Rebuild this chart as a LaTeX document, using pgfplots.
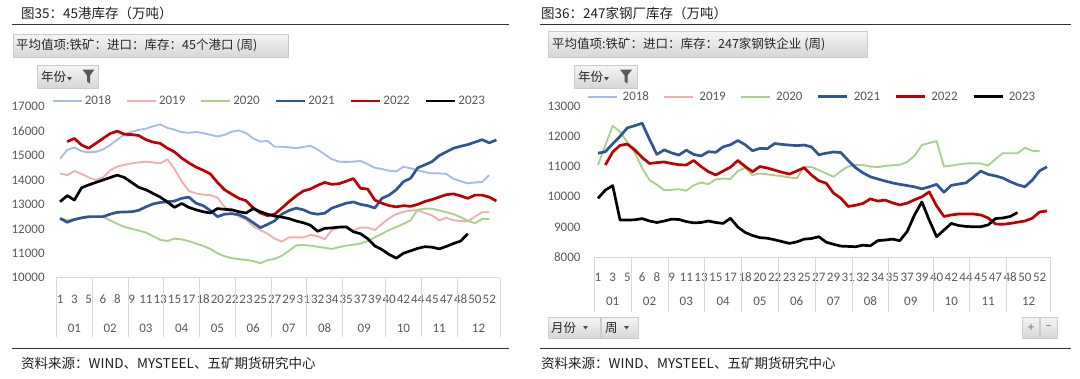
\documentclass[border=0pt]{standalone}
\usepackage{fontspec}
\setmainfont{Carlito}
\newfontfamily\cjk{Noto Sans CJK SC}
\usepackage{pgfplots}
\pgfplotsset{compat=1.18}

\definecolor{cA}{RGB}{166,189,227}
\definecolor{cB}{RGB}{240,175,175}
\definecolor{cC}{RGB}{169,209,142}
\definecolor{cD}{RGB}{47,85,151}
\definecolor{cE}{RGB}{192,0,0}
\definecolor{cF}{RGB}{0,0,0}
\definecolor{tick}{RGB}{89,89,89}
\definecolor{sep}{RGB}{217,217,217}

\pgfplotsset{
 chartbase/.style={
  anchor=south west, scale only axis,
  xmin=0.5, xmax=62.5,
  axis line style={draw=none},
  major tick length=0pt,
  clip=false,
  xtick={1,3,...,61},
  xticklabels={1,3,5,6,8,9,11,13,15,17,18,20,22,23,25,27,29,31,32,34,35,37,39,40,42,44,45,47,48,50,52},
  ticklabel style={font=\fontsize{13}{13}\selectfont, text=tick},
  /pgf/number format/assume math mode=true,
  /pgf/number format/1000 sep={},
  scaled y ticks=false,
  yticklabel style={anchor=east, inner sep=0pt},
  xticklabel style={anchor=center, inner sep=0pt},
  legend columns=6,
  legend cell align=left,
  legend image code/.code={\draw[##1] (0pt,0pt) -- (29pt,0pt);},
  legend style={draw=none, fill=none, font=\fontsize{13}{13}\selectfont, text=tick, inner sep=0pt, nodes={inner sep=0pt}},
 },
 lt/.style={line width=1.9pt, line join=round},
 lk/.style={line width=2.7pt, line join=round},
}

\begin{document}
\begin{tikzpicture}
\useasboundingbox (0pt,0pt) rectangle (1080pt,-378pt);
\begin{scope}[x=1pt,y=-1pt]
% ---------- left decorations
\node[anchor=west, inner sep=0pt, font=\cjk\fontsize{13.5}{13.5}\selectfont, text=black!88] at (21,13) {图35：45港库存（万吨）};
\draw[black!80, line width=0.8pt] (12,24) -- (509,24);
\shade[top color=gray!8, bottom color=gray!32, draw=gray!40] (13,34) rectangle (288,57.5);
\node[anchor=west, inner sep=0pt, font=\cjk\fontsize{12.5}{12.5}\selectfont, text=black!85] at (16,45.5) {平均值项:铁矿：进口：库存：45个港口 (周)};
\shade[top color=gray!8, bottom color=gray!32, draw=gray!40] (37,65) rectangle (98,88.5);
\node[anchor=west, inner sep=0pt, font=\cjk\fontsize{12.5}{12.5}\selectfont, text=black!85] at (41,76.5) {年份};
\fill[black!70] (67,77) -- (72,77) -- (69.5,80.5) -- cycle;
\fill[black!65] (82.5,69.5) -- (94.5,69.5) -- (90,75.5) -- (90,83.5) -- (87,81.5) -- (87,75.5) -- cycle;
\draw[black!80, line width=0.8pt] (12,348) -- (509,348);
\node[anchor=west, inner sep=0pt, font=\cjk\fontsize{13.5}{13.5}\selectfont, text=black!88] at (21,363) {资料来源：WIND、MYSTEEL、五矿期货研究中心};
% ---------- right decorations
\node[anchor=west, inner sep=0pt, font=\cjk\fontsize{13.5}{13.5}\selectfont, text=black!88] at (541,13) {图36：247家钢厂库存（万吨）};
\draw[black!80, line width=0.8pt] (540,24) -- (1071,24);
\shade[top color=gray!8, bottom color=gray!32, draw=gray!40] (548,31) rectangle (867,57);
\node[anchor=west, inner sep=0pt, font=\cjk\fontsize{12.5}{12.5}\selectfont, text=black!85] at (552,44) {平均值项:铁矿：进口：库存：247家钢铁企业 (周)};
\shade[top color=gray!8, bottom color=gray!32, draw=gray!40] (574.5,65) rectangle (637,88.5);
\node[anchor=west, inner sep=0pt, font=\cjk\fontsize{12.5}{12.5}\selectfont, text=black!85] at (578,76.5) {年份};
\fill[black!70] (604,77) -- (609,77) -- (606.5,80.5) -- cycle;
\fill[black!65] (620,69.5) -- (632,69.5) -- (627.5,75.5) -- (627.5,83.5) -- (624.5,81.5) -- (624.5,75.5) -- cycle;
\shade[top color=gray!8, bottom color=gray!32, draw=gray!40] (548.5,317.5) rectangle (600,338);
\node[anchor=west, inner sep=0pt, font=\cjk\fontsize{12.5}{12.5}\selectfont, text=black!85] at (551,328) {月份};
\fill[black!70] (583,326) -- (588,326) -- (585.5,329.5) -- cycle;
\shade[top color=gray!8, bottom color=gray!32, draw=gray!40] (601,317.5) rectangle (638,338);
\node[anchor=west, inner sep=0pt, font=\cjk\fontsize{12.5}{12.5}\selectfont, text=black!85] at (605,328) {周};
\fill[black!70] (624,326) -- (629,326) -- (626.5,329.5) -- cycle;
\shade[top color=gray!8, bottom color=gray!32, draw=gray!40] (1022.5,317.5) rectangle (1039.5,338);
\node[font=\fontsize{13}{13}\selectfont, text=black!55] at (1031,327.5) {+};
\shade[top color=gray!8, bottom color=gray!32, draw=gray!40] (1040.5,317.5) rectangle (1057,338);
\node[font=\fontsize{13}{13}\selectfont, text=black!55] at (1048.7,327.5) {\textendash};
\draw[black!80, line width=0.8pt] (540,348) -- (1071,348);
\node[anchor=west, inner sep=0pt, font=\cjk\fontsize{13.5}{13.5}\selectfont, text=black!88] at (541,363) {资料来源：WIND、MYSTEEL、五矿期货研究中心};
\end{scope}

% ================= LEFT AXIS
\begin{axis}[chartbase,
  at={(56.5pt,-277.7pt)}, width=443.5pt, height=171pt,
  ymin=10000, ymax=17000, ytick={10000,11000,...,17000},
  yticklabel style={xshift=-11.7pt},
  xticklabel style={yshift=-21.3pt},
  legend style={at={(-0.0108,1.0333)}, anchor=west},
  /tikz/every odd column/.append style={column sep=2pt},
  /tikz/every even column/.append style={column sep=15pt},
]
\addplot[cA, lt] coordinates {(1,14870) (2,15230) (3,15330) (4,15180) (5,15130) (6,15150) (7,15250) (8,15430) (9,15650) (10,15870) (11,15980) (12,16050) (13,16100) (14,16200) (15,16280) (16,16130) (17,16060) (18,15960) (19,15930) (20,15970) (21,15920) (22,15850) (23,15780) (24,15850) (25,15980) (26,16030) (27,15920) (28,15700) (29,15570) (30,15600) (31,15360) (32,15360) (33,15340) (34,15300) (35,15350) (36,15400) (37,15250) (38,15050) (39,14850) (40,14750) (41,14740) (42,14750) (43,14780) (44,14650) (45,14500) (46,14450) (47,14380) (48,14350) (49,14540) (50,14480) (51,14400) (52,14320) (53,14270) (54,14270) (55,14250) (56,14050) (57,13950) (58,13860) (59,13900) (60,13920) (61,14200)};
\addlegendentry{2018}
\addplot[cB, lt] coordinates {(1,14270) (2,14200) (3,14370) (4,14250) (5,14100) (6,14000) (7,14100) (8,14400) (9,14550) (10,14620) (11,14680) (12,14720) (13,14750) (14,14720) (15,14680) (16,14850) (17,14450) (18,13950) (19,13550) (20,13450) (21,13400) (22,13380) (23,13280) (24,12900) (25,12650) (26,12500) (27,12380) (28,12100) (29,11950) (30,11800) (31,11600) (32,11480) (33,11650) (34,11650) (35,11650) (36,11750) (37,11700) (38,11580) (39,11950) (40,12050) (41,12100) (42,11920) (43,12050) (44,12050) (45,11950) (46,12200) (47,12430) (48,12600) (49,12700) (50,12750) (51,12760) (52,12650) (53,12550) (54,12350) (55,12450) (56,12350) (57,12320) (58,12300) (59,12500) (60,12680) (61,12680)};
\addlegendentry{2019}
\addplot[cC, lt] coordinates {(1,12430) (2,12360) (3,12400) (4,12430) (5,12470) (6,12500) (7,12500) (8,12350) (9,12200) (10,12080) (11,12000) (12,11930) (13,11850) (14,11700) (15,11550) (16,11500) (17,11600) (18,11570) (19,11500) (20,11400) (21,11300) (22,11180) (23,11000) (24,10880) (25,10800) (26,10760) (27,10730) (28,10680) (29,10590) (30,10720) (31,10770) (32,10900) (33,11100) (34,11320) (35,11340) (36,11310) (37,11270) (38,11220) (39,11180) (40,11250) (41,11310) (42,11350) (43,11400) (44,11500) (45,11650) (46,11800) (47,11950) (48,12080) (49,12200) (50,12350) (51,12780) (52,12830) (53,12830) (54,12750) (55,12680) (56,12600) (57,12480) (58,12330) (59,12230) (60,12400) (61,12400)};
\addlegendentry{2020}
\addplot[cD, lk] coordinates {(1,12430) (2,12270) (3,12380) (4,12450) (5,12500) (6,12500) (7,12500) (8,12600) (9,12680) (10,12690) (11,12700) (12,12760) (13,12900) (14,13020) (15,13080) (16,13110) (17,13140) (18,13250) (19,13300) (20,13050) (21,12950) (22,12750) (23,12500) (24,12600) (25,12620) (26,12580) (27,12450) (28,12250) (29,12050) (30,12180) (31,12330) (32,12600) (33,12750) (34,12850) (35,12780) (36,12650) (37,12600) (38,12640) (39,12850) (40,12950) (41,13050) (42,13100) (43,13000) (44,12950) (45,12850) (46,13250) (47,13380) (48,13600) (49,13930) (50,14070) (51,14500) (52,14620) (53,14750) (54,15000) (55,15150) (56,15300) (57,15380) (58,15450) (59,15550) (60,15650) (61,15520) (62,15640)};
\addlegendentry{2021}
\addplot[cE, lk] coordinates {(2,15570) (3,15700) (4,15430) (5,15300) (6,15500) (7,15700) (8,15900) (9,16000) (10,15870) (11,15860) (12,15820) (13,15650) (14,15550) (15,15500) (16,15300) (17,15150) (18,14900) (19,14700) (20,14530) (21,14400) (22,14250) (23,13900) (24,13600) (25,13420) (26,13250) (27,13150) (28,12860) (29,12650) (30,12540) (31,12600) (32,12850) (33,13110) (34,13350) (35,13550) (36,13630) (37,13780) (38,13900) (39,13820) (40,13850) (41,13950) (42,14060) (43,13660) (44,13630) (45,13180) (46,13050) (47,12950) (48,12900) (49,12950) (50,12920) (51,13000) (52,13120) (53,13200) (54,13300) (55,13400) (56,13430) (57,13350) (58,13250) (59,13380) (60,13380) (61,13300) (62,13140)};
\addlegendentry{2022}
\addplot[cF, lk] coordinates {(1,13110) (2,13360) (3,13180) (4,13680) (5,13800) (6,13900) (7,14000) (8,14100) (9,14200) (10,14100) (11,13900) (12,13700) (13,13600) (14,13450) (15,13300) (16,13100) (17,12880) (18,13040) (19,12880) (20,12780) (21,12700) (22,12650) (23,12830) (24,12800) (25,12780) (26,12700) (27,12650) (28,12830) (29,12700) (30,12600) (31,12520) (32,12480) (33,12420) (34,12320) (35,12250) (36,12150) (37,11900) (38,12020) (39,12040) (40,12070) (41,12080) (42,11880) (43,11800) (44,11600) (45,11300) (46,11150) (47,10950) (48,10800) (49,11000) (50,11100) (51,11200) (52,11270) (53,11250) (54,11180) (55,11280) (56,11400) (57,11500) (58,11800)};
\addlegendentry{2023}
\draw[sep, line width=0.8pt] (axis cs:0.5,10000) -- (axis cs:62.5,10000);
\pgfplotsinvokeforeach{0.5,5.5,10.5,15.5,20.5,25.5,30.5,35.5,40.5,46.5,51.5,56.5,62.5}{
  \draw[sep, line width=0.8pt] (axis cs:#1,10000) -- ++(0pt,-59.3pt);
}
\pgfplotsinvokeforeach{3/01,8/02,13/03,18/04,23/05,28/06,33/07,38/08,43.5/09,49/10,54/11,59.5/12}{
}
\node[font=\fontsize{13}{13}\selectfont, text=tick] at (axis cs:3,10000) [yshift=-50.3pt] {01};
\node[font=\fontsize{13}{13}\selectfont, text=tick] at (axis cs:8,10000) [yshift=-50.3pt] {02};
\node[font=\fontsize{13}{13}\selectfont, text=tick] at (axis cs:13,10000) [yshift=-50.3pt] {03};
\node[font=\fontsize{13}{13}\selectfont, text=tick] at (axis cs:18,10000) [yshift=-50.3pt] {04};
\node[font=\fontsize{13}{13}\selectfont, text=tick] at (axis cs:23,10000) [yshift=-50.3pt] {05};
\node[font=\fontsize{13}{13}\selectfont, text=tick] at (axis cs:28,10000) [yshift=-50.3pt] {06};
\node[font=\fontsize{13}{13}\selectfont, text=tick] at (axis cs:33,10000) [yshift=-50.3pt] {07};
\node[font=\fontsize{13}{13}\selectfont, text=tick] at (axis cs:38,10000) [yshift=-50.3pt] {08};
\node[font=\fontsize{13}{13}\selectfont, text=tick] at (axis cs:43.5,10000) [yshift=-50.3pt] {09};
\node[font=\fontsize{13}{13}\selectfont, text=tick] at (axis cs:49,10000) [yshift=-50.3pt] {10};
\node[font=\fontsize{13}{13}\selectfont, text=tick] at (axis cs:54,10000) [yshift=-50.3pt] {11};
\node[font=\fontsize{13}{13}\selectfont, text=tick] at (axis cs:59.5,10000) [yshift=-50.3pt] {12};
\end{axis}

% ================= RIGHT AXIS
\begin{axis}[chartbase,
  at={(594.3pt,-257.3pt)}, width=456.4pt, height=151.3pt,
  ymin=8000, ymax=13000, ytick={8000,9000,...,13000},
  yticklabel style={xshift=-13.6pt},
  xticklabel style={yshift=-19.7pt},
  legend style={at={(-0.0169,1.0615)}, anchor=west},
  /tikz/every odd column/.append style={column sep=5pt},
  /tikz/every even column/.append style={column sep=14.5pt},
]
\addlegendimage{cA, lt}
\addlegendentry{2018}
\addlegendimage{cB, lt}
\addlegendentry{2019}
\addplot[cC, lt] coordinates {(1,11050) (2,11700) (3,12350) (4,12150) (5,11800) (6,11450) (7,10950) (8,10550) (9,10400) (10,10220) (11,10230) (12,10250) (13,10200) (14,10380) (15,10470) (16,10420) (17,10580) (18,10600) (19,10590) (20,10850) (21,10960) (22,10720) (23,10770) (24,10740) (25,10710) (26,10680) (27,10640) (28,10610) (29,10990) (30,10990) (31,10880) (32,10770) (33,10660) (34,10850) (35,11000) (36,11050) (37,11050) (38,11000) (39,10980) (40,11020) (41,11040) (42,11060) (43,11150) (44,11350) (45,11710) (46,11780) (47,11840) (48,11000) (49,11030) (50,11070) (51,11100) (52,11110) (53,11100) (54,11030) (55,11250) (56,11440) (57,11440) (58,11440) (59,11620) (60,11520) (61,11510)};
\addlegendentry{2020}
\addplot[cD, lk] coordinates {(1,11440) (2,11490) (3,11750) (4,12000) (5,12280) (6,12350) (7,12430) (8,11900) (9,11400) (10,11550) (11,11450) (12,11380) (13,11540) (14,11400) (15,11350) (16,11490) (17,11470) (18,11650) (19,11720) (20,11860) (21,11720) (22,11520) (23,11600) (24,11590) (25,11760) (26,11730) (27,11710) (28,11690) (29,11710) (30,11650) (31,11390) (32,11440) (33,11480) (34,11460) (35,11200) (36,10960) (37,10790) (38,10660) (39,10590) (40,10520) (41,10460) (42,10410) (43,10370) (44,10330) (45,10260) (46,10330) (47,10410) (48,10150) (49,10380) (50,10420) (51,10460) (52,10650) (53,10850) (54,10740) (55,10690) (56,10620) (57,10500) (58,10400) (59,10330) (60,10550) (61,10860) (62,10990)};
\addlegendentry{2021}
\addplot[cE, lk] coordinates {(2,11050) (3,11480) (4,11700) (5,11740) (6,11550) (7,11300) (8,11100) (9,11130) (10,11150) (11,11100) (12,11060) (13,11050) (14,11200) (15,11000) (16,10830) (17,10720) (18,10850) (19,10980) (20,11200) (21,11000) (22,10830) (23,11000) (24,10950) (25,10880) (26,10810) (27,10750) (28,10850) (29,10960) (30,10720) (31,10530) (32,10450) (33,10120) (34,9950) (35,9680) (36,9720) (37,9780) (38,9930) (39,9860) (40,9890) (41,9800) (42,9730) (43,9790) (44,9900) (45,10000) (46,10160) (47,9700) (48,9350) (49,9400) (50,9430) (51,9430) (52,9430) (53,9400) (54,9300) (55,9100) (56,9090) (57,9120) (58,9160) (59,9200) (60,9290) (61,9500) (62,9530)};
\addlegendentry{2022}
\addplot[cF, lk] coordinates {(1,9950) (2,10220) (3,10370) (4,9230) (5,9230) (6,9240) (7,9280) (8,9200) (9,9150) (10,9200) (11,9260) (12,9250) (13,9180) (14,9140) (15,9150) (16,9200) (17,9150) (18,9120) (19,9290) (20,9000) (21,8820) (22,8720) (23,8650) (24,8630) (25,8580) (26,8520) (27,8460) (28,8510) (29,8600) (30,8620) (31,8680) (32,8500) (33,8430) (34,8370) (35,8360) (36,8350) (37,8400) (38,8380) (39,8550) (40,8570) (41,8600) (42,8550) (43,8850) (44,9400) (45,9830) (46,9230) (47,8680) (48,8900) (49,9120) (50,9050) (51,9020) (52,9010) (53,9010) (54,9070) (55,9280) (56,9300) (57,9350) (58,9480)};
\addlegendentry{2023}
\draw[sep, line width=0.8pt] (axis cs:0.5,8000) -- (axis cs:62.5,8000);
\pgfplotsinvokeforeach{0.5,5.5,10.5,15.5,20.5,25.5,30.5,35.5,40.5,46.5,51.5,56.5,62.5}{
  \draw[sep, line width=0.8pt] (axis cs:#1,8000) -- ++(0pt,-55pt);
}
\node[font=\fontsize{13}{13}\selectfont, text=tick] at (axis cs:3,8000) [yshift=-44.2pt] {01};
\node[font=\fontsize{13}{13}\selectfont, text=tick] at (axis cs:8,8000) [yshift=-44.2pt] {02};
\node[font=\fontsize{13}{13}\selectfont, text=tick] at (axis cs:13,8000) [yshift=-44.2pt] {03};
\node[font=\fontsize{13}{13}\selectfont, text=tick] at (axis cs:18,8000) [yshift=-44.2pt] {04};
\node[font=\fontsize{13}{13}\selectfont, text=tick] at (axis cs:23,8000) [yshift=-44.2pt] {05};
\node[font=\fontsize{13}{13}\selectfont, text=tick] at (axis cs:28,8000) [yshift=-44.2pt] {06};
\node[font=\fontsize{13}{13}\selectfont, text=tick] at (axis cs:33,8000) [yshift=-44.2pt] {07};
\node[font=\fontsize{13}{13}\selectfont, text=tick] at (axis cs:38,8000) [yshift=-44.2pt] {08};
\node[font=\fontsize{13}{13}\selectfont, text=tick] at (axis cs:43.5,8000) [yshift=-44.2pt] {09};
\node[font=\fontsize{13}{13}\selectfont, text=tick] at (axis cs:49,8000) [yshift=-44.2pt] {10};
\node[font=\fontsize{13}{13}\selectfont, text=tick] at (axis cs:54,8000) [yshift=-44.2pt] {11};
\node[font=\fontsize{13}{13}\selectfont, text=tick] at (axis cs:59.5,8000) [yshift=-44.2pt] {12};
\end{axis}
\end{tikzpicture}
\end{document}
